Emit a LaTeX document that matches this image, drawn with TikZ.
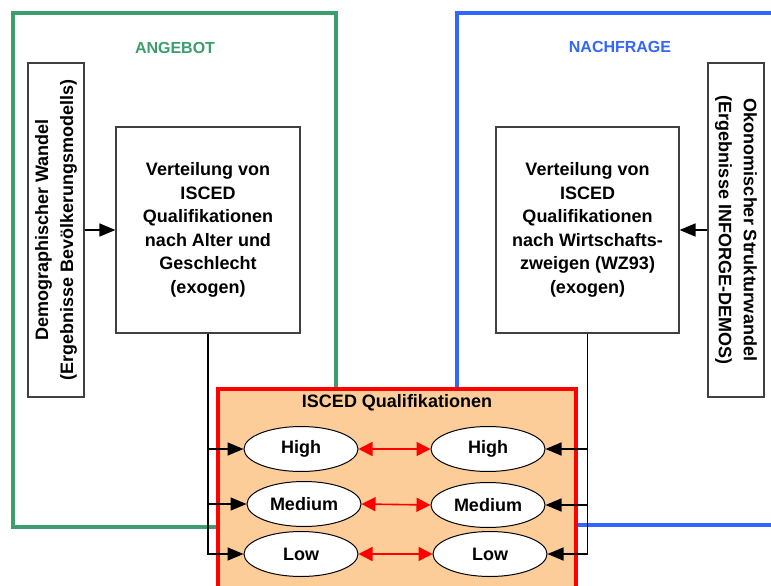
\documentclass[tikz,border=0pt]{standalone}
\usepackage{fontspec}
\setmainfont{Liberation Sans}
\usetikzlibrary{arrows.meta,shapes.geometric}
\definecolor{angebotgreen}{RGB}{60,158,108}
\definecolor{nachfrageblue}{RGB}{51,102,255}
\definecolor{peach}{RGB}{252,204,153}
\begin{document}
\begin{tikzpicture}[x=1pt,y=-1pt,
  txt/.style={font=\fontsize{18}{23.5}\selectfont\bfseries},
  title/.style={font=\fontsize{16}{19}\selectfont\bfseries},
  sidebox/.style={draw=black!75,line width=1.2pt,fill=white,minimum width=334pt,minimum height=56pt,inner sep=0pt,align=center,font=\fontsize{18}{25}\selectfont\bfseries},
  mainbox/.style={draw=black!75,line width=1.2pt,fill=white,minimum height=206pt,inner sep=0pt,align=center,txt},
  qual/.style={ellipse,draw=black,line width=1pt,fill=white,minimum width=114pt,minimum height=45pt,inner sep=0pt,txt},
  feed/.style={line width=1.6pt,-{Triangle[length=16pt,width=13pt]}},
  link/.style={red,line width=1.6pt,{Triangle[length=14pt,width=14pt]}-{Triangle[length=14pt,width=14pt]}}
]
\useasboundingbox (0,0) rectangle (771,586);
\fill[white] (0,0) rectangle (771,586);
% outer frames
\draw[angebotgreen,line width=4pt] (13,13) rectangle (336,527);
\draw[nachfrageblue,line width=4.5pt] (457,13) rectangle (790,525);
\node[title,text=angebotgreen] (angebot) at (175,48) {ANGEBOT};
\node[title,text=nachfrageblue] (nachfrage) at (620,47) {NACHFRAGE};
% ISCED box
\draw[red,line width=4pt,fill=peach] (218,389) rectangle (576,600);
\node[txt] (iscedtitle) at (397,403) {ISCED Qualifikationen};
% side boxes
\node[sidebox,rotate=90] (demo) at (56,230) {Demographischer Wandel\\(Ergebnisse Bevölkerungsmodells)};
\node[sidebox,rotate=-90] (econ) at (736,230) {Okonomischer Strukturwandel\\(Ergebnisse INFORGE-DEMOS)};
% main boxes
\node[mainbox,minimum width=184pt] (left) at (208,230) {Verteilung von\\ISCED\\Qualifikationen\\nach Alter und\\Geschlecht\\(exogen)};
\node[mainbox,minimum width=183pt] (right) at (587.5,230) {Verteilung von\\ISCED\\Qualifikationen\\nach Wirtschafts-\\zweigen (WZ93)\\(exogen)};
\draw[feed] (demo.south) -- (left.west |- demo.south);
\draw[feed] (econ.south) -- (right.east |- econ.south);
% qualification ellipses
\node[qual] (lh) at (301,449) {High};
\node[qual] (lm) at (304,504) {Medium};
\node[qual] (ll) at (301,554) {Low};
\node[qual] (rh) at (488,449) {High};
\node[qual] (rm) at (488,505) {Medium};
\node[qual] (rl) at (490,554) {Low};
% feeds
\draw[feed] (left.south) |- (lh.west);
\draw[feed] (left.south) |- (lm.west);
\draw[feed] (left.south) |- (ll.west);
\draw[feed] (right.south) |- (rh.east);
\draw[feed] (right.south) |- (rm.east);
\draw[feed] (right.south) |- (rl.east);
% links
\draw[link] (lh.east) -- (rh.west);
\draw[link] (lm.east) -- (rm.west);
\draw[link] (ll.east) -- (rl.west);
\end{tikzpicture}
\end{document}
